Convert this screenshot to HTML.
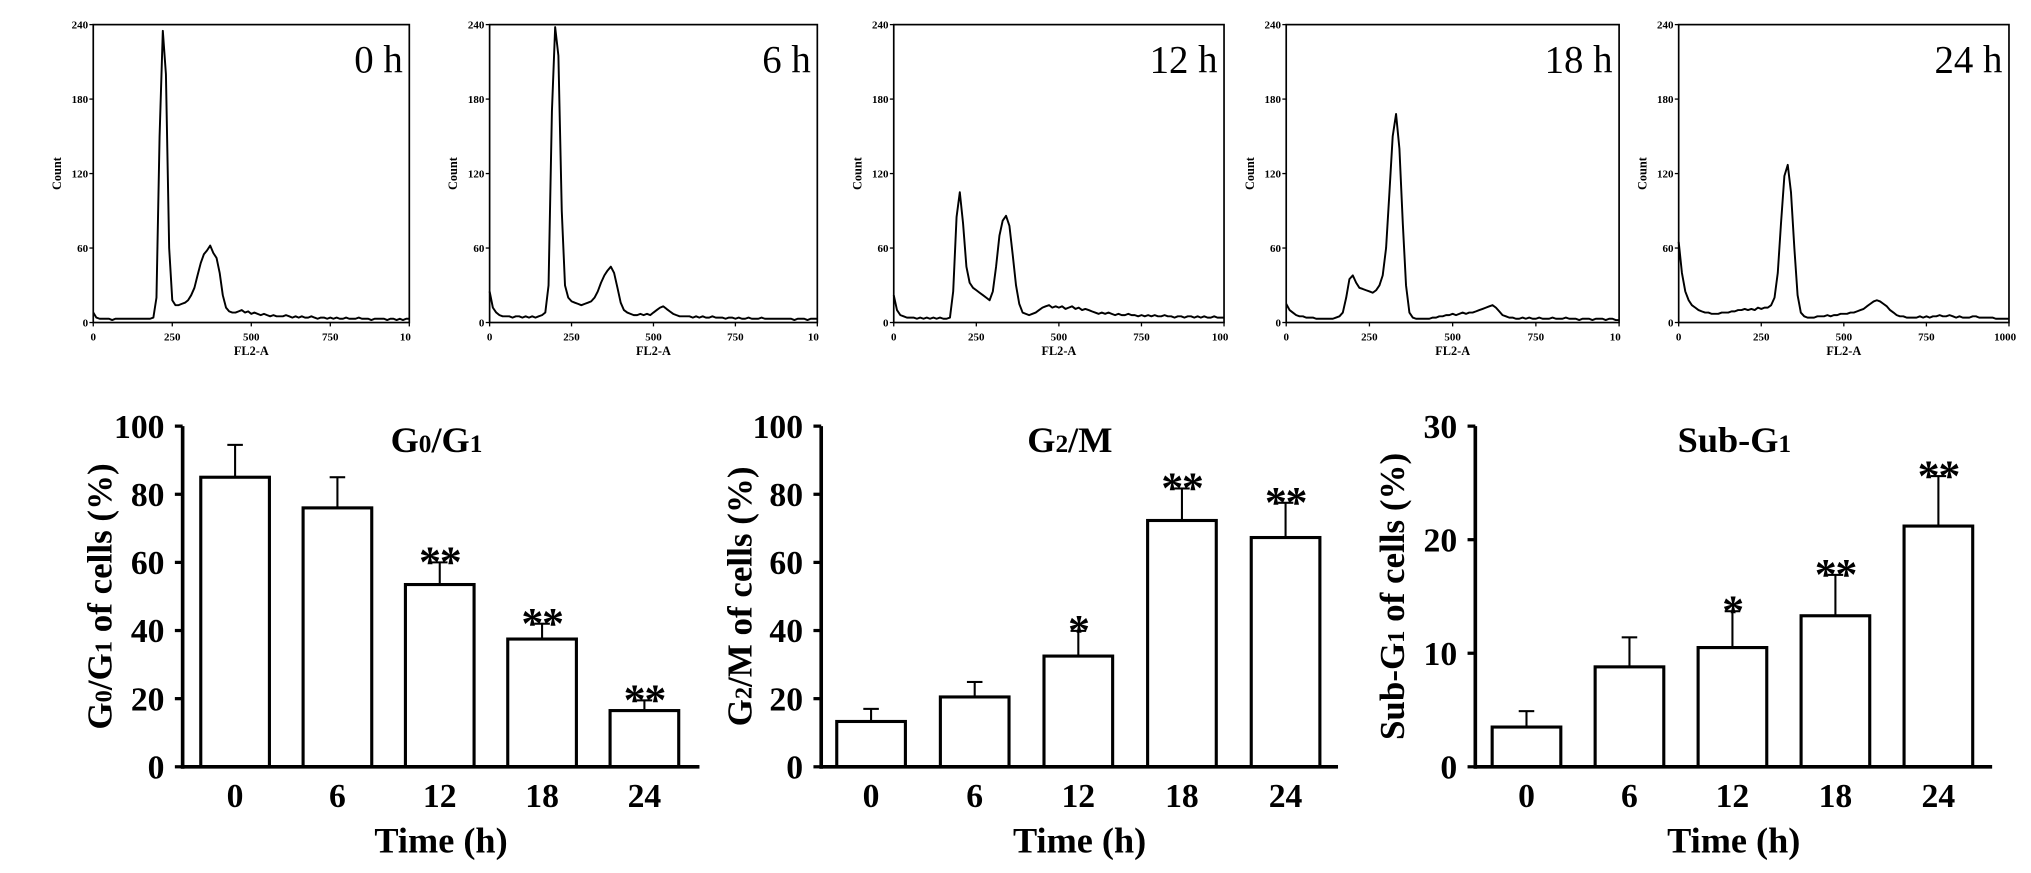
<!DOCTYPE html>
<html><head><meta charset="utf-8"><style>
html,body{margin:0;padding:0;background:#fff;}
svg{display:block;}
text{font-family:"Liberation Serif",serif;fill:#000;}
</style></head><body>
<svg id="fig" width="2031" height="873" viewBox="0 0 1568 674" preserveAspectRatio="none" xmlns="http://www.w3.org/2000/svg"></svg>
<script>
// ---- histogram data (count at FL2-A = 0,10,20,...,1000) ----
const histLabels = ["0 h","6 h","12 h","18 h","24 h"];
const histXTicks = [0,250,500,750,1000];
const histXTickText = [["0","250","500","750","10"],["0","250","500","750","10"],["0","250","500","750","100"],["0","250","500","750","10"],["0","250","500","750","1000"]];
const histYTicks = [0,60,120,180,240];
const h0 = [8,4,3,3,3,3,2,3,3,3, 3,3,3,3,3,3,3,3,3,4, 20,150,235,200,60,18,14,14,15,16, 18,22,28,38,48,55,58,62,56,52, 40,22,12,9,8,8,9,10,8,9, 7,8,7,6,7,6,5,6,5,5, 5,6,5,4,5,4,5,4,4,5, 4,3,4,4,3,4,3,4,3,3, 4,3,3,3,4,3,3,3,2,3, 3,3,3,2,3,3,2,3,2,3, 3];
const h6 = [25,12,8,6,5,5,5,4,5,5, 4,5,4,5,4,5,6,8,30,170, 238,215,90,30,20,17,16,15,14,15, 16,17,20,25,32,38,42,45,40,28, 16,10,8,7,6,6,7,6,7,6, 8,10,12,13,11,9,7,6,5,5, 5,5,4,5,4,5,4,4,5,4, 4,4,3,4,4,3,4,3,3,4, 3,3,3,4,3,3,3,3,3,3, 3,3,3,2,3,3,3,2,3,3, 3];
const h12 = [22,10,6,5,4,4,4,3,4,3, 4,3,4,3,4,3,3,4,25,85, 105,80,45,32,28,26,24,22,20,18, 25,45,70,82,86,78,55,30,15,8, 7,6,7,8,10,12,13,14,12,13, 12,13,11,12,13,11,12,10,11,10, 9,8,7,8,7,8,7,6,7,6, 6,7,6,6,5,6,5,6,5,6, 5,5,6,5,5,4,5,5,4,5, 5,4,5,4,5,4,4,5,4,4, 4];
const h18 = [15,10,8,6,5,5,4,4,4,3, 3,3,3,3,3,4,5,8,20,35, 38,32,28,27,26,25,24,26,30,38, 60,105,150,168,140,80,30,8,4,3, 3,3,3,3,4,4,5,5,6,6, 7,6,7,8,7,8,8,9,10,11, 12,13,14,12,9,6,5,4,4,3, 3,4,3,4,3,3,4,3,3,3, 4,3,3,3,4,3,3,3,2,3, 3,3,2,3,3,3,2,3,3,2, 2];
const h24 = [65,40,25,18,14,12,10,9,8,8, 7,7,7,8,8,8,9,9,10,10, 11,10,11,10,12,11,12,12,14,20, 40,80,118,127,105,60,22,8,5,4, 4,4,5,5,5,6,5,6,6,7, 7,7,8,8,9,10,11,13,15,17, 18,17,15,13,10,8,6,5,5,4, 4,4,4,5,4,5,4,5,5,6, 5,5,6,5,4,5,4,4,4,5, 5,4,4,4,4,4,3,3,3,3, 3];
const histSeries = [h0,h6,h12,h18,h24];

// ---- bar chart data ----
const categories = ["0","6","12","18","24"];
const g1Values = [85,76,53.5,37.5,16.5];
const g1Errors = [9.5,9,6.5,4.5,3];
const g1Sig = ["","","**","**","**"];
const g2Values = [13.3,20.5,32.5,72.3,67.3];
const g2Errors = [3.7,4.4,7.4,9.4,10.2];
const g2Sig = ["","","*","**","**"];
const subValues = [3.5,8.8,10.5,13.3,21.2];
const subErrors = [1.4,2.6,3.2,3.6,4.4];
const subSig = ["","","*","**","**"];
const g1Ticks = [0,20,40,60,80,100];
const g2Ticks = [0,20,40,60,80,100];
const subTicks = [0,10,20,30];

const NS = "http://www.w3.org/2000/svg";
const svg = document.getElementById("fig");
function mk(tag, attrs, parent){
  const e = document.createElementNS(NS, tag);
  for (const k in attrs) e.setAttribute(k, attrs[k]);
  (parent||svg).appendChild(e);
  return e;
}

// ---- histograms ----
const histBoxes = [[72,316],[378,631],[690,945],[993,1250],[1296,1551]];
const hTop = 19, hBot = 249;
histSeries.forEach((data, p) => {
  const [x0,x1] = histBoxes[p];
  const g = mk("g", {});
  
  
  const sx = v => x0 + (v/1000)*(x1-x0);
  const sy = v => hBot - (Math.min(v,240)/240)*(hBot-hTop);
  const box = mk("rect", {x:x0, y:hTop, width:x1-x0, height:hBot-hTop, fill:"none", stroke:"#000", "stroke-width":1.3}, g);
  
  
  histYTicks.forEach(t => {
    mk("line", {x1:x0-3, x2:x0, y1:sy(t), y2:sy(t), stroke:"#000", "stroke-width":1}, g);
    const tl = mk("text", {x:x0-4, y:sy(t)+3, "font-size":8.5, "font-weight":"bold", "text-anchor":"end"}, g);
    tl.textContent = t;
    
    
  });
  histXTicks.forEach((t,i) => {
    mk("line", {x1:sx(t), x2:sx(t), y1:hBot, y2:hBot+3, stroke:"#000", "stroke-width":1}, g);
    const tl = mk("text", {x:sx(t)-(i===4?3:0), y:hBot+14, "font-size":8.5, "font-weight":"bold", "text-anchor":"middle"}, g);
    tl.textContent = histXTickText[p][i];
    
    
  });
  const yl = mk("text", {x:0, y:0, "font-size":9.5, "font-weight":"bold", "text-anchor":"middle", transform:`translate(${x0-25},${(hTop+hBot)/2}) rotate(-90)`}, g);
  yl.textContent = "Count";
  
  
  const xl = mk("text", {x:(x0+x1)/2, y:hBot+25, "font-size":9.5, "font-weight":"bold", "text-anchor":"middle"}, g);
  xl.textContent = "FL2-A";
  
  
  const lab = mk("text", {x:x1-5, y:56, "font-size":30, "text-anchor":"end"}, g);
  lab.textContent = histLabels[p];
  
  
  let d = "";
  data.forEach((v,i) => { d += (i?"L":"M") + sx(i*10).toFixed(1) + "," + sy(v).toFixed(1); });
  const path = mk("path", {d:d, fill:"none", stroke:"#000", "stroke-width":1.5, "stroke-linejoin":"round"}, g);
  
  
});

// ---- bar charts ----
const charts = [
  {name:"g0g1", vals:g1Values, errs:g1Errors, sig:g1Sig, ticks:g1Ticks, max:100, ax:141, axEnd:540, b0:155, pitch:79, titleX:337, ylabX:77, title:[["G",""],["0","s"],["/G",""],["1","s"]], ylab:[["G",""],["0","s"],["/G",""],["1","s"],[" of cells (%)",""]]},
  {name:"g2m", vals:g2Values, errs:g2Errors, sig:g2Sig, ticks:g2Ticks, max:100, ax:634, axEnd:1033, b0:646, pitch:80, titleX:826, ylabX:571, title:[["G",""],["2","s"],["/M",""]], ylab:[["G",""],["2","s"],["/M of cells (%)",""]]},
  {name:"sub-g1", vals:subValues, errs:subErrors, sig:subSig, ticks:subTicks, max:30, ax:1139, axEnd:1538, b0:1152, pitch:79.5, titleX:1339, ylabX:1075, title:[["Sub-G",""],["1","s"]], ylab:[["Sub-G",""],["1","s"],[" of cells (%)",""]]}
];
const yTop = 329, y0 = 592, bw = 53;
function rich(el, parts, size){
  parts.forEach(([t,s]) => {
    const ts = document.createElementNS(NS,"tspan");
    if (s) ts.setAttribute("font-size", size*0.7);
    ts.textContent = t;
    el.appendChild(ts);
  });
}
charts.forEach(c => {
  const g = mk("g", {});
  
  
  const sy = v => y0 - (v/c.max)*(y0-yTop);
  c.ticks.forEach(t => {
    mk("line", {x1:c.ax-6, x2:c.ax, y1:sy(t), y2:sy(t), stroke:"#000", "stroke-width":2.5}, g);
    const tl = mk("text", {x:c.ax-14, y:sy(t)+9, "font-size":26, "font-weight":"bold", "text-anchor":"end"}, g);
    tl.textContent = t;
    
    
  });
  c.vals.forEach((v,i) => {
    const x = c.b0 + i*c.pitch, cx = x + bw/2;
    const et = sy(v + c.errs[i]);
    const eb = mk("line", {x1:cx, x2:cx, y1:sy(v), y2:et, stroke:"#000", "stroke-width":1.6}, g);
    
    
    mk("line", {x1:cx-6, x2:cx+6, y1:et, y2:et, stroke:"#000", "stroke-width":1.6}, g);
    const r = mk("rect", {x:x, y:sy(v), width:bw, height:y0-sy(v), fill:"#fff", stroke:"#000", "stroke-width":2.4}, g);
    
    
    if (c.sig[i]) {
      const s = mk("text", {x:cx, y:et+11, "font-size":34, "font-weight":"bold", "text-anchor":"middle", "letter-spacing":"-1"}, g);
      s.textContent = c.sig[i];
      
      
    }
    const xl = mk("text", {x:cx, y:623, "font-size":26, "font-weight":"bold", "text-anchor":"middle"}, g);
    xl.textContent = categories[i];
    
    
  });
  const ya = mk("line", {x1:c.ax, x2:c.ax, y1:yTop, y2:y0+1.5, stroke:"#000", "stroke-width":2.8}, g);
  
  
  const xa = mk("line", {x1:c.ax-1.4, x2:c.axEnd, y1:y0, y2:y0, stroke:"#000", "stroke-width":2.8}, g);
  
  
  const tt = mk("text", {x:c.titleX, y:349, "font-size":28, "font-weight":"bold", "text-anchor":"middle"}, g);
  rich(tt, c.title, 28);
  
  
  const yl = mk("text", {x:0, y:0, "font-size":27, "font-weight":"bold", "text-anchor":"middle", transform:`translate(${c.ylabX+9},${(yTop+y0)/2}) rotate(-90)`}, g);
  rich(yl, c.ylab, 27);
  
  
  const xt = mk("text", {x:(c.ax+c.axEnd)/2, y:658, "font-size":28, "font-weight":"bold", "text-anchor":"middle"}, g);
  xt.textContent = "Time (h)";
  
  
});
</script>
</body></html>
